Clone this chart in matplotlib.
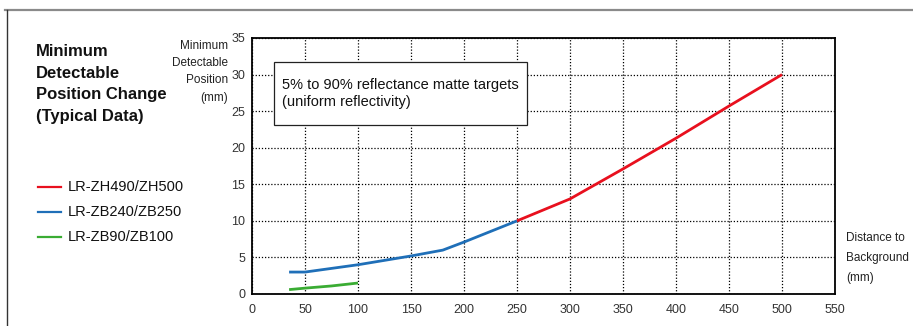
import matplotlib
matplotlib.use("Agg")
import matplotlib.pyplot as plt
from matplotlib.lines import Line2D
from matplotlib.patches import Rectangle

# Series data (distance to background in mm, minimum detectable change in mm)
zh_x = [250, 300, 350, 400, 450, 500]
zh_y = [10.0, 13.0, 17.1, 21.3, 25.7, 30.0]
zb240_x = [35, 50, 100, 150, 180, 200, 250]
zb240_y = [3.0, 3.0, 4.0, 5.2, 6.0, 7.1, 10.0]
zb90_x = [35, 50, 75, 100]
zb90_y = [0.6, 0.8, 1.1, 1.5]

series_labels = ["LR-ZH490/ZH500", "LR-ZB240/ZB250", "LR-ZB90/ZB100"]
series_colors = ["#e8101e", "#1f6fb8", "#3aac33"]

x_ticks = list(range(0, 551, 50))
y_ticks = list(range(0, 36, 5))

plt.rcParams["font.family"] = ["Liberation Sans", "DejaVu Sans"]

W, H = 913, 326
fig = plt.figure(figsize=(W / 100, H / 100), dpi=100)


def fx(px):
    return px / W


def fy(py):
    return 1 - py / H


ax = fig.add_axes([fx(252), fy(294), fx(835) - fx(252), fy(38) - fy(294)])
ax.set_xlim(0, 550)
ax.set_ylim(0, 35)
ax.set_xticks(x_ticks)
ax.set_yticks(y_ticks)
ax.tick_params(length=0, labelsize=9, colors="#333333")
ax.tick_params(axis="x", pad=7)
ax.tick_params(axis="y", pad=5)
ax.grid(True, linestyle=(0, (1, 1.5)), color="black", linewidth=0.9)
for s in ax.spines.values():
    s.set_color("black")
    s.set_linewidth(1.3)

lw = 2.0
ax.plot(zb90_x, zb90_y, color=series_colors[2], lw=lw, solid_capstyle="butt")
ax.plot(zb240_x, zb240_y, color=series_colors[1], lw=lw, solid_capstyle="butt")
ax.plot(zh_x, zh_y, color=series_colors[0], lw=lw, solid_capstyle="butt")

# note box
ax.add_patch(Rectangle((20.8, 23.1), 238.8, 8.6, facecolor="white",
                       edgecolor="#222222", linewidth=0.9, zorder=5))
ax.text(28.3, 27.4, "5% to 90% reflectance matte targets\n(uniform reflectivity)",
        fontsize=10.5, va="center", ha="left", color="#111111",
        linespacing=1.2, zorder=6)

# outer frame lines
fig.add_artist(Line2D([fx(5), 1], [fy(9.5), fy(9.5)], color="#8a8a8a", lw=1.6))
fig.add_artist(Line2D([fx(7), fx(7)], [fy(9.5), 0], color="#333333", lw=1.0))

# title
fig.text(fx(36), fy(44), "Minimum\nDetectable\nPosition Change\n(Typical Data)",
         fontsize=12, fontweight="bold", va="top", ha="left", linespacing=1.56,
         color="#111111")

# y axis label
fig.text(fx(228), fy(40), "Minimum\nDetectable\nPosition\n(mm)",
         fontsize=8.5, va="top", ha="right", linespacing=1.58, color="#222222")

# x axis label
fig.text(fx(846), fy(232), "Distance to\nBackground\n(mm)",
         fontsize=8.5, va="top", ha="left", linespacing=1.88, color="#222222")

# legend
for i, (lab, col) in enumerate(zip(series_labels, series_colors)):
    yy = fy(187 + 25 * i)
    fig.add_artist(Line2D([fx(38), fx(61)], [yy, yy], color=col, lw=1.6))
    fig.text(fx(68), yy, lab, fontsize=10.5, va="center", ha="left", color="#111111")

fig.savefig("out.png", dpi=100)
